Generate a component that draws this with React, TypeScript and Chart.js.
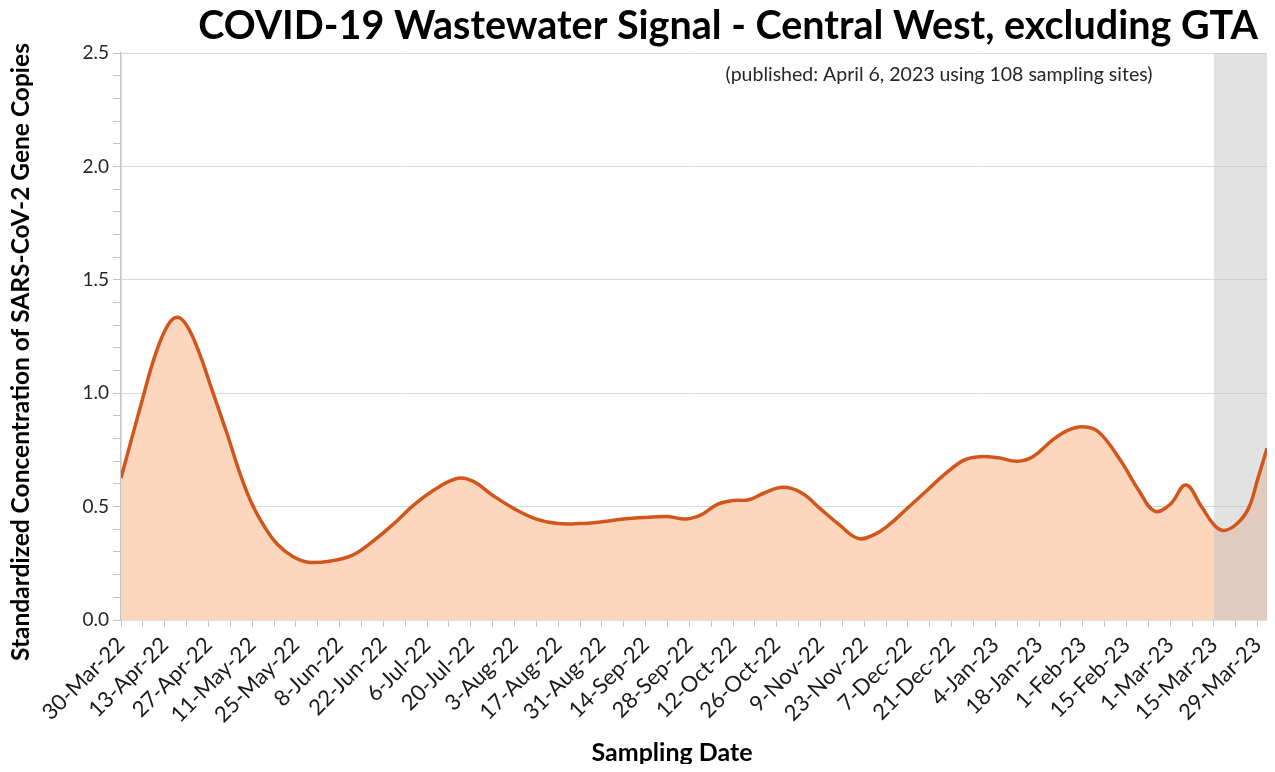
import React, { useEffect, useRef } from 'react';
import { Chart, registerables } from 'chart.js';

Chart.register(...registerables);

const TITLE = 'COVID-19 Wastewater Signal - Central West, excluding GTA';
const SUBTITLE = '(published: April 6, 2023 using 108 sampling sites)';
const Y_TITLE = 'Standardized Concentration of SARS-CoV-2 Gene Copies';
const X_TITLE = 'Sampling Date';

// days since 30-Mar-22
const sampleDays = [
  0, 7, 11, 15, 18, 21, 25, 29, 34, 38, 42, 46, 50, 55, 60, 67, 74, 80, 87,
  94, 101, 108, 113, 119, 126, 133, 140, 147, 154, 161, 168, 175, 181, 186, 191,
  196, 201, 206, 212, 218, 224, 230, 236, 241, 246, 252, 258, 264, 270, 275, 281,
  287, 292, 298, 303, 308, 313, 320, 326, 331, 336, 341, 346, 350, 353, 357,
  361, 364, 367,
];
const signalValues = [
  0.626, 0.98, 1.17, 1.3, 1.335, 1.3, 1.18, 1.02, 0.82, 0.65, 0.51, 0.41, 0.335, 0.28, 0.255, 0.26, 0.285, 0.34, 0.42,
  0.51, 0.58, 0.625, 0.61, 0.55, 0.49, 0.445, 0.425, 0.425, 0.433, 0.445, 0.452, 0.456, 0.445, 0.465, 0.51,
  0.527, 0.53, 0.56, 0.585, 0.56, 0.49, 0.42, 0.36, 0.375, 0.42, 0.495, 0.57, 0.645, 0.705, 0.72, 0.715,
  0.7, 0.72, 0.79, 0.835, 0.852, 0.83, 0.705, 0.57, 0.48, 0.51, 0.595, 0.5, 0.42, 0.395, 0.42,
  0.49, 0.62, 0.757,
];

const tickLabels = [
  '30-Mar-22', '13-Apr-22', '27-Apr-22', '11-May-22', '25-May-22', '8-Jun-22', '22-Jun-22',
  '6-Jul-22', '20-Jul-22', '3-Aug-22', '17-Aug-22', '31-Aug-22', '14-Sep-22', '28-Sep-22',
  '12-Oct-22', '26-Oct-22', '9-Nov-22', '23-Nov-22', '7-Dec-22', '21-Dec-22', '4-Jan-23',
  '18-Jan-23', '1-Feb-23', '15-Feb-23', '1-Mar-23', '15-Mar-23', '29-Mar-23',
];
const labelEveryDays = 14;
const tickEveryDays = 7;
const axisMaxDay = 367;
const shadeStartDay = 350;

const yMax = 2.5;
const yMinorStep = 0.1;
const yMajorStep = 0.5;

const LINE_COLOR = '#D2561C';
const FILL_COLOR = '#FDD6BE';
const SHADE_COLOR = 'rgba(190,190,190,0.45)';
const AXIS_COLOR = '#C4C4C4';
const GRID_COLOR = '#D9D9D9';
const FONT = 'Lato, "Open Sans", sans-serif';

const shadePlugin = {
  id: 'shade',
  afterDatasetDraw(chart: any, args: any) {
    if (args.index !== 1) return;
    const { ctx, chartArea, scales } = chart;
    const x0 = scales.x.getPixelForValue(shadeStartDay);
    const x1 = scales.x.getPixelForValue(axisMaxDay);
    ctx.save();
    ctx.fillStyle = SHADE_COLOR;
    ctx.fillRect(x0, chartArea.top, x1 - x0, chartArea.bottom - chartArea.top);
    ctx.restore();
  },
};

const textPlugin = {
  id: 'texts',
  afterDraw(chart: any) {
    const { ctx } = chart;
    ctx.save();
    ctx.fillStyle = '#000';
    ctx.textAlign = 'center';
    ctx.textBaseline = 'alphabetic';
    ctx.font = `bold 39.5px ${FONT}`;
    ctx.fillText(TITLE, 720, 31);
    ctx.fillStyle = '#262626';
    ctx.font = `19.5px ${FONT}`;
    ctx.fillText(SUBTITLE, 931, 73);
    ctx.fillStyle = '#000';
    ctx.font = `bold 25px ${FONT}`;
    ctx.fillText(X_TITLE, 664, 753);
    ctx.translate(21, 344);
    ctx.rotate(-Math.PI / 2);
    ctx.font = `bold 24.5px ${FONT}`;
    ctx.fillText(Y_TITLE, 0, 0);
    ctx.restore();
  },
};

export default function App() {
  const canvasRef = useRef<HTMLCanvasElement | null>(null);

  useEffect(() => {
    if (!canvasRef.current) return;
    const points = sampleDays.map((d, i) => ({ x: d, y: signalValues[i] }));
    const chart = new Chart(canvasRef.current, {
      type: 'line',
      data: {
        datasets: [
          {
            data: points,
            borderColor: LINE_COLOR,
            borderWidth: 3.5,
            pointRadius: 0,
            fill: false,
            tension: 0.4,
            order: 0,
          },
          {
            data: points,
            borderWidth: 0,
            borderColor: 'transparent',
            backgroundColor: FILL_COLOR,
            pointRadius: 0,
            fill: 'origin',
            tension: 0.4,
            order: 1,
          },
        ],
      },
      options: {
        animation: false,
        responsive: true,
        maintainAspectRatio: false,
        layout: { padding: { top: 45, left: 0, right: 0, bottom: 0 } },
        plugins: {
          legend: { display: false },
          tooltip: { enabled: false },
          title: { display: false },
        },
        scales: {
          x: {
            type: 'linear',
            min: 0,
            max: axisMaxDay,
            afterBuildTicks: (scale: any) => {
              const ticks = [];
              for (let d = 0; d <= axisMaxDay; d += tickEveryDays) ticks.push({ value: d });
              scale.ticks = ticks;
            },
            afterFit: (scale: any) => {
              scale.height = 144;
              scale.paddingLeft = 0;
              scale.paddingRight = 0;
            },
            ticks: {
              autoSkip: false,
              minRotation: 45,
              maxRotation: 45,
              padding: 5,
              color: '#1a1a1a',
              font: { family: FONT, size: 22 },
              callback: (v: any) => {
                const n = Number(v);
                return n % labelEveryDays === 0 ? tickLabels[n / labelEveryDays] ?? '' : '';
              },
            },
            grid: {
              drawOnChartArea: false,
              drawTicks: true,
              tickLength: 7,
              tickColor: AXIS_COLOR,
            },
            border: { display: true, color: AXIS_COLOR, width: 1.5 },
          },
          y: {
            min: 0,
            max: yMax,
            afterBuildTicks: (scale: any) => {
              const ticks = [];
              for (let i = 0; i <= Math.round(yMax / yMinorStep); i++) ticks.push({ value: Math.round(i * yMinorStep * 10) / 10 });
              scale.ticks = ticks;
            },
            afterFit: (scale: any) => {
              scale.width = 113;
            },
            ticks: {
              autoSkip: false,
              padding: 4,
              color: '#262626',
              font: { family: FONT, size: 19 },
              callback: (v: any) => {
                const n = Number(v);
                const k = Math.round(n / yMinorStep);
                return k % Math.round(yMajorStep / yMinorStep) === 0 ? n.toFixed(1) : '';
              },
            },
            grid: {
              drawTicks: true,
              tickLength: 8,
              tickColor: AXIS_COLOR,
              color: (c: any) => {
                const k = Math.round((c.tick?.value ?? 0) / yMinorStep);
                return k % Math.round(yMajorStep / yMinorStep) === 0 && k !== 0 ? GRID_COLOR : 'rgba(0,0,0,0)';
              },
            },
            border: { display: true, color: AXIS_COLOR, width: 1.5 },
          },
        },
      },
      plugins: [shadePlugin, textPlugin],
    });
    return () => chart.destroy();
  }, []);

  return (
    <div style={{ width: 1259, height: 756, position: 'relative' }}>
      <canvas ref={canvasRef} />
    </div>
  );
}
